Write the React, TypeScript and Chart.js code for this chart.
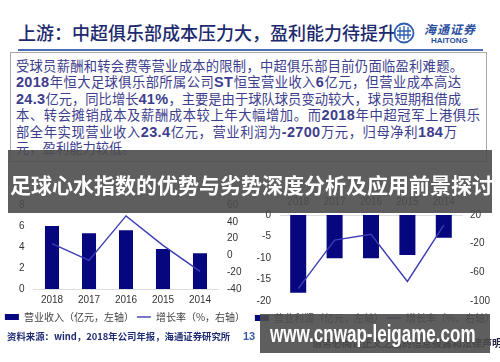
import React, { useEffect, useRef } from "react";
import { Chart, registerables } from "chart.js";

Chart.register(...registerables);

// ---- data ----
const years = ["2018", "2017", "2016", "2015", "2014"];
const revenue = [6.0, 5.3, 5.6, 3.8, 3.4];
const revenueGrowth = [14, -6, 47, 12, -19];
const operatingProfit = [-18.1, -10.1, -10.1, -9.3, -5.3];
const profitGrowth = [-83, -15, -7, -73, 6];

const revenueLabel = "营业收入（亿元，左轴）";
const profitLabel = "营业利润（亿元，左轴）";
const growthLabel = "增长率（%，右轴）";

const titleText = "上游：中超俱乐部成本压力大，盈利能力待提升";
const bodyLines = [
  "受球员薪酬和转会费等营业成本的限制，中超俱乐部目前仍面临盈利难题。",
  "2018年恒大足球俱乐部所属公司ST恒宝营业收入6亿元，但营业成本高达",
  "24.3亿元，同比增长41%，主要是由于球队球员变动较大，球员短期租借成",
  "本、转会摊销成本及薪酬成本较上年大幅增加。而2018年中超冠军上港俱乐",
  "部全年实现营业收入23.4亿元，营业利润为-2700万元，归母净利184万",
  "元，盈利能力较低。",
];
const bodyWidths = [447, 445, 443, 464, 441, 0];
const bannerText = "足球心水指数的优势与劣势深度分析及应用前景探讨";
const sourceText = "资料来源：wind，2018年公司年报，海通证券研究所";
const pageNumber = "13";
const watermarkText = "www.cnwap-leigame.com";
const disclaimerText = "请务必阅读正文之后的信息披露和法律声明";

// ---- styles ----
const BAR = "#06067f";
const LINE = "#3c3cb4";
const TICK = "#333333";
const SANS = '"Liberation Sans", Arial, sans-serif';
const CJK = '"Noto Sans CJK SC", "Noto Sans", sans-serif';

type ComboProps = {
  left: number;
  top: number;
  width: number;
  height: number;
  barLabel: string;
  barData: number[];
  lineData: number[];
  y: { min: number; max: number; step: number };
  y1: { min: number; max: number; step: number };
  xTop: boolean;
  leftW: number;
  rightW: number;
  yPad: number;
  y1Pad: number;
  padTop: number;
  xHeight: number;
  xPad: number;
  legendGap: number;
  barPct: number;
};

function ComboChart(p: ComboProps) {
  const ref = useRef<HTMLCanvasElement | null>(null);
  useEffect(() => {
    if (!ref.current) return;
    const tickFont = { family: SANS, size: 10 };
    const chart = new Chart(ref.current, {
      data: {
        labels: years,
        datasets: [
          {
            type: "bar",
            label: p.barLabel,
            data: p.barData,
            yAxisID: "y",
            backgroundColor: BAR,
            borderWidth: 0,
            pointStyle: "rect",
            barPercentage: p.barPct,
            categoryPercentage: 1,
            order: 1,
          } as any,
          {
            type: "line",
            label: growthLabel,
            data: p.lineData,
            yAxisID: "y1",
            borderColor: LINE,
            backgroundColor: LINE,
            borderWidth: 1.4,
            pointRadius: 0,
            pointStyle: "line",
            tension: 0,
            order: 0,
          } as any,
        ],
      },
      options: {
        responsive: false,
        animation: false,
        devicePixelRatio: 1,
        layout: { padding: { top: p.padTop, bottom: 0, left: 0, right: 0 } },
        plugins: {
          legend: {
            position: "bottom",
            title: {
              display: p.legendGap > 0,
              text: "",
              font: { size: 1 },
              padding: { top: 0, bottom: p.legendGap },
            },
            labels: {
              usePointStyle: true,
              pointStyleWidth: 14,
              boxHeight: 6,
              padding: 3,
              color: "#444444",
              font: { family: CJK, size: 10 },
              sort: (a: any, b: any) => a.datasetIndex - b.datasetIndex,
            },
          },
          tooltip: { enabled: false },
        },
        scales: {
          x: {
            position: p.xTop ? "top" : "bottom",
            grid: { display: false, drawTicks: false },
            border: { display: true, color: "#dedede" },
            ticks: { color: TICK, font: tickFont, padding: p.xPad },
            afterFit: (s: any) => {
              s.height = p.xHeight;
            },
          },
          y: {
            position: "left",
            min: p.y.min,
            max: p.y.max,
            ticks: { stepSize: p.y.step, color: TICK, font: tickFont, padding: p.yPad },
            grid: { display: false, drawTicks: false },
            border: { display: false },
            afterFit: (s: any) => {
              s.width = p.leftW;
            },
          },
          y1: {
            position: "right",
            min: p.y1.min,
            max: p.y1.max,
            ticks: { stepSize: p.y1.step, color: TICK, font: tickFont, padding: p.y1Pad },
            grid: { display: false, drawTicks: false },
            border: { display: false },
            afterFit: (s: any) => {
              s.width = p.rightW;
            },
          },
        },
      } as any,
    });
    return () => chart.destroy();
  }, []);
  return (
    <canvas
      ref={ref}
      width={p.width}
      height={p.height}
      style={{ position: "absolute", left: p.left, top: p.top, width: p.width, height: p.height, display: "block" }}
    />
  );
}

function RichLine({ text }: { text: string }) {
  const parts = text.split(/([0-9A-Za-z.%\-]+)/);
  return (
    <>
      {parts.map((s, i) =>
        /^[0-9A-Za-z.%\-]+$/.test(s) ? (
          <span key={i} style={{ fontFamily: SANS, fontWeight: 700, fontSize: 14.5, letterSpacing: 0.3 }}>
            {s}
          </span>
        ) : (
          <span key={i}>{s}</span>
        )
      )}
    </>
  );
}

export default function App() {
  return (
    <div
      style={{
        position: "fixed",
        left: 0,
        top: 0,
        width: 500,
        height: 362,
        background: "#ffffff",
        overflow: "hidden",
        fontFamily: CJK,
      }}
    >
      {/* title */}
      <div
        style={{
          position: "absolute",
          left: 18,
          top: 20,
          fontSize: 18,
          lineHeight: "24px",
          fontWeight: 500,
          color: "#1d2a6e",
          whiteSpace: "nowrap",
        }}
      >
        {titleText}
      </div>
      {/* logo */}
      <svg style={{ position: "absolute", left: 392, top: 22 }} width={24} height={22} viewBox="0 0 24 22">
        <circle cx={12} cy={11} r={9.5} fill="none" stroke="#2c5fb0" strokeWidth={1.8} />
        <path d="M8 5 V17 M12 4 V18 M16 5 V17 M5 9 H19 M5 13 H19" stroke="#2c5fb0" strokeWidth={1.3} fill="none" />
      </svg>
      <div
        style={{
          position: "absolute",
          left: 424,
          top: 22,
          fontSize: 12,
          lineHeight: "14px",
          fontStyle: "italic",
          fontWeight: 700,
          color: "#2b4f9e",
          whiteSpace: "nowrap",
          letterSpacing: 1,
        }}
      >
        海通证券
      </div>
      <div
        style={{
          position: "absolute",
          left: 431,
          top: 36,
          fontSize: 8,
          lineHeight: "9px",
          fontFamily: SANS,
          fontWeight: 700,
          color: "#2b4f9e",
          whiteSpace: "nowrap",
        }}
      >
        HAITONG
      </div>
      <div style={{ position: "absolute", left: 18, top: 49, width: 465, height: 2, background: "#4a6db5" }} />

      {/* body box */}
      <div
        style={{
          position: "absolute",
          left: 10,
          top: 52,
          width: 477,
          height: 110,
          border: "1px solid #a8a8a8",
          boxSizing: "border-box",
        }}
      />
      <div style={{ position: "absolute", left: 16, top: 57.5, color: "#3d3d8d", fontSize: 13.3, lineHeight: "16.6px" }}>
        {bodyLines.map((l, i) => (
          <div
            key={i}
            style={{
              whiteSpace: "nowrap",
              width: bodyWidths[i] || undefined,
              textAlign: bodyWidths[i] ? "justify" : "left",
              textAlignLast: bodyWidths[i] ? "justify" : "auto",
              height: 16.6,
            }}
          >
            <RichLine text={l} />
          </div>
        ))}
      </div>

      {/* charts */}
      <ComboChart
        left={0}
        top={190}
        width={250}
        height={142}
        barLabel={revenueLabel}
        barData={revenue}
        lineData={revenueGrowth}
        y={{ min: 0, max: 8, step: 2 }}
        y1={{ min: -40, max: 60, step: 20 }}
        xTop={false}
        leftW={33.5}
        rightW={31.5}
        yPad={9}
        y1Pad={8.5}
        padTop={12}
        xHeight={20}
        xPad={5}
        legendGap={0}
        barPct={0.38}
      />
      <ComboChart
        left={250}
        top={190}
        width={250}
        height={143}
        barLabel={profitLabel}
        barData={operatingProfit}
        lineData={profitGrowth}
        y={{ min: -20, max: 0, step: 5 }}
        y1={{ min: -100, max: 20, step: 20 }}
        xTop={true}
        leftW={30}
        rightW={38}
        yPad={9}
        y1Pad={8}
        padTop={5}
        xHeight={20}
        xPad={7}
        legendGap={8}
        barPct={0.44}
      />

      {/* banner overlay */}
      <div
        style={{
          position: "absolute",
          left: 8,
          top: 150,
          width: 484,
          height: 63,
          background: "rgba(76,76,76,0.9)",
        }}
      />
      <div
        style={{
          position: "absolute",
          left: 0,
          top: 171,
          width: 503,
          textAlign: "center",
          fontSize: 21,
          lineHeight: "26px",
          fontWeight: 700,
          color: "#ffffff",
          whiteSpace: "nowrap",
        }}
      >
        {bannerText}
      </div>

      {/* footer */}
      <div
        style={{
          position: "absolute",
          left: 7,
          top: 330,
          fontSize: 9.4,
          lineHeight: "12px",
          fontWeight: 700,
          color: "#1f2c74",
          whiteSpace: "nowrap",
        }}
      >
        {sourceText}
      </div>
      <div
        style={{
          position: "absolute",
          left: 243,
          top: 329,
          fontSize: 11,
          lineHeight: "14px",
          fontFamily: SANS,
          fontWeight: 700,
          color: "#3a5aa8",
        }}
      >
        {pageNumber}
      </div>
      <div
        style={{
          position: "absolute",
          left: 312,
          top: 337,
          fontSize: 10,
          lineHeight: "12px",
          fontWeight: 700,
          color: "#222244",
          whiteSpace: "nowrap",
        }}
      >
        {disclaimerText}
      </div>
      {/* watermark */}
      <div
        style={{
          position: "absolute",
          left: 260,
          top: 314,
          width: 230,
          height: 39,
          background: "rgba(76,76,76,0.9)",
        }}
      />
      <div
        style={{
          position: "absolute",
          left: 270,
          top: 320,
          fontFamily: SANS,
          fontSize: 23,
          lineHeight: "28px",
          fontWeight: 700,
          color: "#ffffff",
          whiteSpace: "nowrap",
          transform: "scaleX(0.74)",
          transformOrigin: "left center",
        }}
      >
        {watermarkText}
      </div>
    </div>
  );
}
